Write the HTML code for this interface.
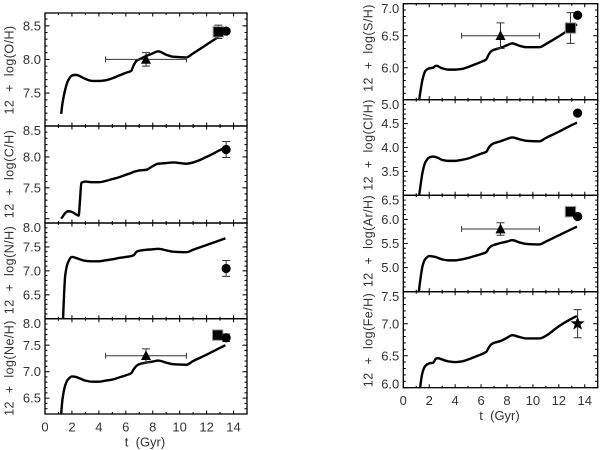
<!DOCTYPE html>
<html>
<head>
<meta charset="utf-8">
<title>Abundance evolution chart</title>
<style>
html,body{margin:0;padding:0;background:#fff;width:600px;height:450px;overflow:hidden}
svg{display:block}
text{font-family:"Liberation Sans",sans-serif;fill:#333}
</style>
</head>
<body>
<svg id="chart" xmlns="http://www.w3.org/2000/svg" width="600" height="450" viewBox="0 0 600 450"></svg>
<script>
const times = [1.2,1.3,1.5,1.7,2,2.3,2.5,2.6,2.7,3,3.5,4,4.5,5,5.5,6,6.4,6.6,6.8,7,7.5,8,8.4,9,9.5,10.5,11,12,13,13.4];
const oValues = [7.19,7.35,7.55,7.68,7.76,7.77,7.76,7.75,7.74,7.71,7.68,7.68,7.69,7.72,7.76,7.80,7.83,7.92,7.98,8.00,8.05,8.09,8.12,8.07,8.04,8.03,8.09,8.22,8.35,8.40];
const cValues = [7.0,7.03,7.09,7.12,7.11,7.07,7.05,7.3,7.58,7.6,7.59,7.59,7.61,7.64,7.67,7.71,7.74,7.76,7.77,7.78,7.79,7.85,7.89,7.9,7.91,7.89,7.91,8.0,8.11,8.15];
const nValues = [5.0,5.7,6.9,7.17,7.29,7.27,7.25,7.24,7.23,7.21,7.2,7.2,7.22,7.24,7.27,7.29,7.31,7.33,7.40,7.42,7.44,7.45,7.46,7.43,7.40,7.39,7.44,7.54,7.64,7.68];
const neValues = [6.2,6.48,6.74,6.85,6.91,6.9,6.88,6.87,6.86,6.83,6.81,6.81,6.83,6.85,6.89,6.93,6.97,7.05,7.11,7.14,7.17,7.19,7.21,7.17,7.14,7.13,7.2,7.32,7.45,7.5];
const sValues = [5.45,5.6,5.83,5.95,5.99,6.0,6.03,6.03,6.02,5.99,5.97,5.97,5.98,6.01,6.05,6.09,6.13,6.21,6.26,6.28,6.31,6.35,6.38,6.34,6.32,6.32,6.37,6.49,6.62,6.68];
const clValues = [2.95,3.15,3.5,3.69,3.79,3.81,3.8,3.79,3.78,3.74,3.72,3.72,3.74,3.77,3.82,3.87,3.91,4.0,4.06,4.09,4.13,4.18,4.21,4.17,4.14,4.13,4.2,4.33,4.47,4.52];
const arValues = [4.5,4.72,5.05,5.18,5.24,5.23,5.22,5.21,5.2,5.17,5.15,5.15,5.17,5.2,5.24,5.28,5.32,5.4,5.45,5.47,5.51,5.54,5.57,5.52,5.49,5.48,5.54,5.67,5.8,5.85];
const feValues = [5.7,6.0,6.25,6.34,6.38,6.39,6.45,6.46,6.46,6.44,6.41,6.4,6.41,6.44,6.48,6.52,6.56,6.63,6.68,6.7,6.73,6.78,6.82,6.79,6.77,6.77,6.81,6.96,7.08,7.12];

const oTicks = ["8.5","8.0","7.5"];
const cTicks = ["8.5","8.0","7.5"];
const nTicks = ["8.0","7.5","7.0","6.5"];
const neTicks = ["8.0","7.5","7.0","6.5"];
const sTicks = ["7.0","6.5","6.0"];
const clTicks = ["5.0","4.5","4.0","3.5"];
const arTicks = ["6.5","6.0","5.5","5.0"];
const feTicks = ["7.5","7.0","6.5","6.0"];
const xTicks = ["0","2","4","6","8","10","12","14"];

// observations: [marker, t, value, t error, value error]
const oObs = [["triangle",7.5,8.0,3,0.1],["square",12.87,8.41,0.3,0.1],["circle",13.45,8.42,0,0.03]];
const cObs = [["circle",13.45,8.12,0,0.13]];
const nObs = [["circle",13.45,7.05,0,0.165]];
const neObs = [["triangle",7.5,7.3,3,0.13],["square",12.82,7.69,0.3,0.07],["circle",13.45,7.64,0,0.07]];
const sObs = [["triangle",7.5,6.5,3,0.2],["square",12.9,6.62,0.3,0.24],["circle",13.45,6.82,0,0.03]];
const clObs = [["circle",13.45,4.72,0,0.03]];
const arObs = [["triangle",7.5,5.8,3,0.13],["square",12.9,6.16,0.3,0.1],["circle",13.45,6.06,0,0.03]];
const feObs = [["star",13.45,7.0,0,0.22]];

const panels = [
 {name:"oxygen",title:"12  +  log(O/H)",x0:45,x1:247,top:13,bottom:126,min:7.01,max:8.69,vals:oValues,ticks:oTicks,obs:oObs,tx:9,ty:70},
 {name:"carbon",title:"12  +  log(C/H)",x0:45,x1:247,top:126,bottom:223,min:6.93,max:8.5,vals:cValues,ticks:cTicks,obs:cObs,tx:9,ty:174},
 {name:"nitrogen",title:"12  +  log(N/H)",x0:45,x1:247,top:223,bottom:318.7,min:6.0,max:8.0,vals:nValues,ticks:nTicks,obs:nObs,tx:9,ty:270},
 {name:"neon",title:"12  +  log(Ne/H)",x0:45,x1:247,top:318.7,bottom:414,min:6.2,max:8.0,vals:neValues,ticks:neTicks,obs:neObs,tx:9,ty:368,xaxis:true},
 {name:"sulfur",title:"12  +  log(S/H)",x0:403.3,x1:597.7,top:3.7,bottom:99.7,min:5.5,max:7.0,vals:sValues,ticks:sTicks,obs:sObs,tx:368,ty:48},
 {name:"chlorine",title:"12  +  log(Cl/H)",x0:403.3,x1:597.7,top:99.7,bottom:195.3,min:3.0,max:5.0,vals:clValues,ticks:clTicks,obs:clObs,tx:368,ty:145},
 {name:"argon",title:"12  +  log(Ar/H)",x0:403.3,x1:597.7,top:195.3,bottom:291.7,min:4.5,max:6.5,vals:arValues,ticks:arTicks,obs:arObs,tx:368,ty:241},
 {name:"iron",title:"12  +  log(Fe/H)",x0:403.3,x1:597.7,top:291.7,bottom:387.7,min:6.0,max:7.5,vals:feValues,ticks:feTicks,obs:feObs,tx:368,ty:340,xaxis:true}
];

const NS = "http://www.w3.org/2000/svg";
const svg = document.getElementById("chart");
const T_MAX = 15;

function el(tag, attrs, parent){
  const e = document.createElementNS(NS, tag);
  for (const k in attrs) e.setAttribute(k, attrs[k]);
  parent.appendChild(e);
  return e;
}
function xScale(p, t){ return p.x0 + (t / T_MAX) * (p.x1 - p.x0); }
function yScale(p, v){ return p.bottom - ((v - p.min) / (p.max - p.min)) * (p.bottom - p.top); }
function tickPath(p){
  let d = "";
  for (let i = 0; i <= T_MAX; i++){
    const x = xScale(p, i), len = i % 2 === 0 ? 3.5 : 2;
    d += "M" + x + " " + p.bottom + "v" + (-len) + "M" + x + " " + p.top + "v" + len;
  }
  const lo = Math.ceil(p.min * 10 - 1e-6), hi = Math.floor(p.max * 10 + 1e-6);
  for (let i = lo; i <= hi; i++){
    const y = yScale(p, i / 10), len = i % 5 === 0 ? 4.5 : 2.5;
    d += "M" + p.x0 + " " + y + "h" + len + "M" + p.x1 + " " + y + "h" + (-len);
  }
  return d;
}
// Monotone cubic path through the data points, so the curve stays smooth without overshoot.
function smoothPath(xs, ys){
  const n = xs.length, s = [], m = [];
  for (let i = 0; i < n - 1; i++) s.push((ys[i + 1] - ys[i]) / (xs[i + 1] - xs[i]));
  m.push(s[0]);
  for (let i = 1; i < n - 1; i++) m.push(s[i - 1] * s[i] <= 0 ? 0 : 2 * s[i - 1] * s[i] / (s[i - 1] + s[i]));
  m.push(s[n - 2]);
  let d = "M" + xs[0].toFixed(2) + " " + ys[0].toFixed(2);
  for (let i = 0; i < n - 1; i++){
    const h = (xs[i + 1] - xs[i]) / 3;
    d += "C" + (xs[i] + h).toFixed(2) + " " + (ys[i] + m[i] * h).toFixed(2) + " " + (xs[i + 1] - h).toFixed(2) + " " + (ys[i + 1] - m[i + 1] * h).toFixed(2) + " " + xs[i + 1].toFixed(2) + " " + ys[i + 1].toFixed(2);
  }
  return d;
}

panels.forEach(function(p, idx){
  const g = el("g", {}, svg);
  
  

  const clip = el("clipPath", {id:"clip" + idx}, g);
  el("rect", {x:p.x0, y:p.top, width:p.x1 - p.x0, height:p.bottom - p.top}, clip);

  const ticks = el("path", {d:tickPath(p), fill:"none", stroke:"#111", "stroke-width":"1.1"}, g);
  
  

  const frame = el("rect", {x:p.x0, y:p.top, width:p.x1 - p.x0, height:p.bottom - p.top, fill:"none", stroke:"#000", "stroke-width":"1.3"}, g);
  
  

  p.ticks.forEach(function(lbl){
    const raw = yScale(p, parseFloat(lbl));
    const cy = Math.min(Math.max(raw, p.top + 4.5), p.bottom - 3.7);
    const t = el("text", {x:p.x0 - 4, y:cy + 4.6, "text-anchor":"end", "font-size":"13"}, g);
    t.textContent = lbl;
    
    
  });

  const title = el("text", {transform:"translate(" + (p.tx + 4.5) + " " + p.ty + ") rotate(-90)", "text-anchor":"middle", "font-size":"12.5", style:"white-space:pre;letter-spacing:0.45px"}, g);
  title.textContent = p.title;
  
  

  const xs = times.map(function(t){ return xScale(p, t); });
  const ys = p.vals.map(function(v){ return yScale(p, v); });
  const line = el("path", {d:smoothPath(xs, ys), fill:"none", stroke:"#000", "stroke-width":"2.4", "stroke-linejoin":"round", "clip-path":"url(#clip" + idx + ")"}, g);
  
  

  p.obs.forEach(function(o){
    const kind = o[0], cx = xScale(p, o[1]), cy = yScale(p, o[2]);
    let d = "";
    if (o[3] > 0){
      const a = xScale(p, o[1] - o[3]), b = xScale(p, o[1] + o[3]);
      d += "M" + a + " " + cy + "H" + b + "M" + a + " " + (cy - 3) + "v6M" + b + " " + (cy - 3) + "v6";
    }
    if (o[4] > 0){
      const a = yScale(p, o[2] + o[4]), b = yScale(p, o[2] - o[4]);
      d += "M" + cx + " " + a + "V" + b + "M" + (cx - 4) + " " + a + "h8M" + (cx - 4) + " " + b + "h8";
    }
    const err = el("path", {d:d, fill:"none", stroke:"#333", "stroke-width":"1"}, g);
    
    

    let m;
    if (kind === "circle"){
      m = el("circle", {cx:cx, cy:cy, r:4.6, fill:"#000"}, g);
    } else if (kind === "square"){
      m = el("rect", {x:cx - 5.2, y:cy - 5.2, width:10.4, height:10.4, fill:"#000", stroke:"#999", "stroke-width":"1"}, g);
    } else if (kind === "triangle"){
      m = el("polygon", {points:(cx - 5) + "," + (cy + 4.3) + " " + (cx + 5) + "," + (cy + 4.3) + " " + cx + "," + (cy - 5.5), fill:"#000"}, g);
    } else {
      let s = [];
      for (let i = 0; i < 10; i++){
        const r = i % 2 === 0 ? 7.5 : 3, a = -Math.PI / 2 + i * Math.PI / 5;
        s.push((cx + r * Math.cos(a)).toFixed(2) + "," + (cy + r * Math.sin(a)).toFixed(2));
      }
      m = el("polygon", {points:s.join(" "), fill:"#000"}, g);
    }
    
    
  });

  if (p.xaxis){
    xTicks.forEach(function(lbl){
      const t = el("text", {x:xScale(p, parseFloat(lbl)), y:p.bottom + 17.5, "text-anchor":"middle", "font-size":"13"}, g);
      t.textContent = lbl;
      
      
    });
    const xt = el("text", {x:(p.x0 + p.x1) / 2 - 1, y:p.bottom + 32.5, "text-anchor":"middle", "font-size":"13", style:"white-space:pre"}, g);
    xt.textContent = "t  (Gyr)";
    
    
  }
});
</script>
</body>
</html>
